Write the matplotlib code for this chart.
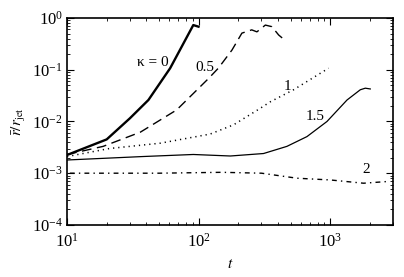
import numpy as np
import matplotlib
matplotlib.use('Agg')
import matplotlib.pyplot as plt

plt.rcParams['font.family'] = ['Liberation Serif', 'DejaVu Serif']
plt.rcParams['mathtext.fontset'] = 'stix'
plt.rcParams['font.size'] = 12

# (t, rbar/rjet)
t_k0 = [10, 20, 30, 41.5, 60.7, 91, 99.7]
r_k0 = [2.25e-3, 4.5e-3, 1.15e-2, 2.6e-2, 0.107, 0.73, 0.68]

t_k05 = [10, 18.8, 36, 68, 119, 141, 179, 213, 253, 277, 321, 360, 405, 442]
r_k05 = [2.3e-3, 3.3e-3, 6.2e-3, 1.67e-2, 6.8e-2, 0.107, 0.24, 0.51, 0.59, 0.54, 0.73, 0.68, 0.47, 0.39]

t_k1 = [10, 21, 51, 122, 184, 294, 350, 526, 970]
r_k1 = [2.1e-3, 3.0e-3, 3.8e-3, 5.7e-3, 8.6e-3, 1.8e-2, 2.4e-2, 4.1e-2, 0.107]

t_k15 = [10, 37.8, 91, 174, 311, 468, 665, 944, 1340, 1690, 1845, 2013]
r_k15 = [1.8e-3, 2.1e-3, 2.3e-3, 2.15e-3, 2.4e-3, 3.3e-3, 5.1e-3, 1.0e-2, 2.6e-2, 4.1e-2, 4.4e-2, 4.25e-2]

t_k2 = [10.5, 50, 150, 300, 558, 1000, 1790, 2700]
r_k2 = [1.0e-3, 1.0e-3, 1.04e-3, 1.0e-3, 8.0e-4, 7.4e-4, 6.4e-4, 6.9e-4]

fig = plt.figure(figsize=(4.04, 2.77), dpi=100)
ax = fig.add_axes([0.166, 0.188, 0.807, 0.747])

ax.plot(t_k0, r_k0, color='black', lw=1.7)
ax.plot(t_k05, r_k05, color='black', lw=1.0, dashes=(7, 4))
ax.plot(t_k1, r_k1, color='black', lw=1.1, dashes=(0.8, 2.6))
ax.plot(t_k15, r_k15, color='black', lw=0.9)
ax.plot(t_k2, r_k2, color='black', lw=1.0, dashes=(3.5, 3, 1, 3))

ax.set_xscale('log')
ax.set_yscale('log')
ax.set_xlim(10, 3000)
ax.set_ylim(1e-4, 1)

for s in ax.spines.values():
    s.set_linewidth(1.2)
ax.tick_params(which='both', direction='in', top=True, right=True, labelsize=12)
ax.tick_params(which='major', length=5, width=0.8)
ax.tick_params(which='minor', length=2.5, width=0.6)
ax.tick_params(axis='x', which='major', pad=6)
ax.tick_params(axis='y', which='major', pad=3)
ax.yaxis.set_minor_locator(matplotlib.ticker.LogLocator(base=10, subs=np.arange(2, 10), numticks=20))

ax.text(0.264, 0.787, 'κ = 0', transform=ax.transAxes, fontsize=11, ha='center', va='center')
ax.text(0.423, 0.763, '0.5', transform=ax.transAxes, fontsize=11, ha='center', va='center')
ax.text(0.675, 0.671, '1', transform=ax.transAxes, fontsize=11, ha='center', va='center')
ax.text(0.761, 0.524, '1.5', transform=ax.transAxes, fontsize=11, ha='center', va='center')
ax.text(0.917, 0.27, '2', transform=ax.transAxes, fontsize=11, ha='center', va='center')

ax.set_xlabel('$t$', fontsize=11)
ax.xaxis.set_label_coords(0.5, -0.16)
ax.set_ylabel(r'$\bar{r}/r_{\rm jet}$', fontsize=11)
ax.yaxis.set_label_coords(-0.12, 0.5)

fig.savefig('out.png', dpi=100)
